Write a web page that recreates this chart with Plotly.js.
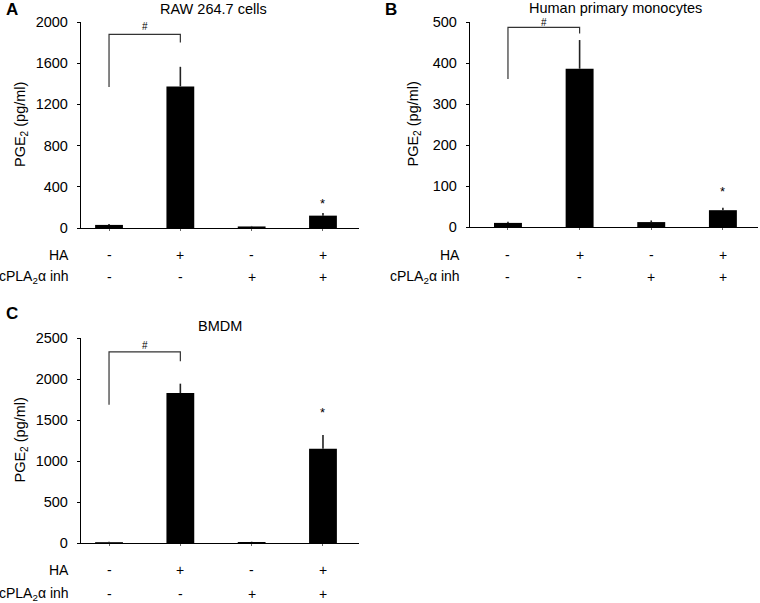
<!DOCTYPE html>
<html>
<head>
<meta charset="utf-8">
<script src="https://cdn.plot.ly/plotly-3.0.1.min.js"></script>
<style>html,body{margin:0;padding:0;background:#fff;}#chart{width:760px;height:603px;}</style>
</head>
<body>
<div id="chart"></div>
<script>
// ---- data ----
const categories = [0, 1, 2, 3];
const haSigns = ["-", "+", "-", "+"];
const inhSigns = ["-", "-", "+", "+"];

const rawValues = [30, 1375, 15, 120];
const rawErrors = [8, 190, 5, 25];
const rawBracketY = [1370, 1880, 1880, 1800];
const rawStarY = 240;
const rawHashY = 1960;

const humanValues = [10, 386, 12, 41];
const humanErrors = [3, 70, 4, 6];
const humanBracketY = [361, 487, 487, 472];
const humanStarY = 86;
const humanHashY = 500;

const bmdmValues = [10, 1828, 12, 1150];
const bmdmErrors = [4, 115, 4, 168];
const bmdmBracketY = [1685, 2330, 2330, 2215];
const bmdmStarY = 1590;
const bmdmHashY = 2410;

const bracketX = [0, 0, 1, 1];
const panelTitles = ["RAW 264.7 cells", "Human primary monocytes", "BMDM"];
const panelLetters = ["A", "B", "C"];
const yTicks = [[0, 400, 800, 1200, 1600, 2000], [0, 100, 200, 300, 400, 500], [0, 500, 1000, 1500, 2000, 2500]];

// ---- layout helpers ----
const W = 760, H = 603;
const px = x => x / W;
const py = y => 1 - y / H;
const FONT = "Liberation Sans, Arial, sans-serif";
const FS = 14.5;

const panels = [
  {vals: rawValues, errs: rawErrors, br: rawBracketY, star: rawStarY, hash: rawHashY,
   xd: [81, 359], yd: [22, 228], xr: [-0.393, 3.505], ymax: 2000,
   title: [213, 9], letter: [12, 9], rowRight: 71, rows: [255, 277], ytitleX: 21},
  {vals: humanValues, errs: humanErrors, br: humanBracketY, star: humanStarY, hash: humanHashY,
   xd: [470, 758], yd: [22, 227], xr: [-0.53, 3.49], ymax: 500,
   title: [615, 8], letter: [391, 9], rowRight: 462, rows: [255, 277], ytitleX: 413},
  {vals: bmdmValues, errs: bmdmErrors, br: bmdmBracketY, star: bmdmStarY, hash: bmdmHashY,
   xd: [81, 359], yd: [338, 543], xr: [-0.393, 3.505], ymax: 2500,
   title: [220, 326], letter: [12, 313], rowRight: 71, rows: [570, 594], ytitleX: 21}
];

const traces = [];
const layout = {
  width: W, height: H,
  margin: {l: 0, r: 0, t: 0, b: 0},
  paper_bgcolor: "#fff", plot_bgcolor: "#fff",
  showlegend: false,
  font: {family: FONT, size: FS, color: "#000"},
  annotations: []
};

panels.forEach((p, i) => {
  const n = i + 1;
  const xa = "x" + (n === 1 ? "" : n), ya = "y" + (n === 1 ? "" : n);
  const xk = "xaxis" + (n === 1 ? "" : n), yk = "yaxis" + (n === 1 ? "" : n);

  traces.push({
    type: "bar", x: categories, y: p.vals, xaxis: xa, yaxis: ya,
    width: 0.39, marker: {color: "#000", line: {width: 0}},
    error_y: {type: "data", array: p.errs, arrayminus: p.errs.map(() => 0), symmetric: false,
              color: "#222", thickness: 1.6, width: 0},
    hoverinfo: "none"
  });
  traces.push({
    type: "scatter", mode: "lines", x: bracketX, y: p.br, xaxis: xa, yaxis: ya,
    line: {color: "#333", width: 1.2}, hoverinfo: "none", cliponaxis: false
  });

  layout[xk] = {
    domain: [px(p.xd[0]), px(p.xd[1])], anchor: ya, range: p.xr,
    showgrid: false, zeroline: false, showline: true, linecolor: "#000", linewidth: 1.2,
    ticks: "outside", ticklen: 2, tickcolor: "#666", tickvals: categories, showticklabels: false,
    fixedrange: true
  };
  layout[yk] = {
    domain: [py(p.yd[1]), py(p.yd[0])], anchor: xa, range: [0, p.ymax],
    showgrid: false, zeroline: false, showline: true, linecolor: "#000", linewidth: 1.2,
    ticks: "outside", ticklen: 3, tickcolor: "#000", tickvals: yTicks[i],
    ticklabelstandoff: 6,
    tickfont: {family: FONT, size: FS, color: "#000"},
    fixedrange: true
  };

  const A = layout.annotations;
  // y-axis title
  A.push({text: "PGE<sub>2</sub> (pg/ml)", xref: "paper", yref: "paper",
          x: px(p.ytitleX), y: py((p.yd[0] + p.yd[1]) / 2), textangle: -90,
          xanchor: "center", yanchor: "middle",
          showarrow: false, font: {size: FS}});
  // panel title
  A.push({text: panelTitles[i], xref: "paper", yref: "paper", x: px(p.title[0]), y: py(p.title[1]),
          xanchor: "center", yanchor: "middle", showarrow: false, font: {size: FS}});
  // panel letter
  A.push({text: "<b>" + panelLetters[i] + "</b>", xref: "paper", yref: "paper",
          x: px(p.letter[0]), y: py(p.letter[1]), xanchor: "center", yanchor: "middle",
          showarrow: false, font: {size: 17}});
  // significance marks (positioned in axis-domain units so they may sit above the range)
  A.push({text: "#", xref: xa, yref: ya + " domain", x: 0.5, y: p.hash / p.ymax, showarrow: false,
          yanchor: "middle", font: {size: 10}});
  A.push({text: "*", xref: xa, yref: ya + " domain", x: 3, y: p.star / p.ymax, showarrow: false,
          yanchor: "middle", font: {size: 13}});
  // row labels
  A.push({text: "HA", xref: "paper", yref: "paper", x: px(p.rowRight), y: py(p.rows[0]),
          xanchor: "right", yanchor: "middle", showarrow: false, font: {size: 14}});
  A.push({text: "cPLA<sub>2</sub>α inh", xref: "paper", yref: "paper", x: px(p.rowRight), y: py(p.rows[1]),
          xanchor: "right", yanchor: "middle", showarrow: false, font: {size: 14}});
  categories.forEach((c, k) => {
    A.push({text: haSigns[k], xref: xa, yref: "paper", x: c, y: py(p.rows[0]),
            xanchor: "center", yanchor: "middle", showarrow: false, font: {size: 14}});
    A.push({text: inhSigns[k], xref: xa, yref: "paper", x: c, y: py(p.rows[1]),
            xanchor: "center", yanchor: "middle", showarrow: false, font: {size: 14}});
  });
});

Plotly.newPlot("chart", traces, layout, {staticPlot: true, displayModeBar: false});
</script>
</body>
</html>
